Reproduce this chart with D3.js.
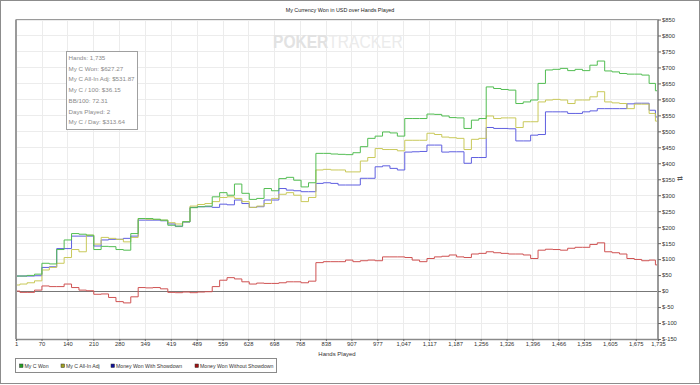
<!DOCTYPE html>
<html>
<head>
<meta charset="utf-8">
<script src="https://cdn.jsdelivr.net/npm/d3@7"></script>
<style>
  html, body { margin: 0; padding: 0; background: #fff; }
  svg { display: block; font-family: "Liberation Sans", Arial, sans-serif; }
</style>
</head>
<body>
<svg id="chart" width="700" height="385"></svg>
<script>
// ---------- DATA ----------
const title = "My Currency Won in USD over Hands Played";
const xTitle = "Hands Played";
const xTicks = [1, 70, 140, 210, 280, 349, 419, 489, 559, 628, 698, 768, 838, 907, 977, 1047, 1117, 1187, 1256, 1326, 1396, 1466, 1535, 1605, 1675, 1735];
const yTicks = [-150, -100, -50, 0, 50, 100, 150, 200, 250, 300, 350, 400, 450, 500, 550, 600, 650, 700, 750, 800, 850];

const hands = [1, 2, 21, 41, 61, 81, 101, 121, 141, 161, 181, 201, 221, 241, 261, 281, 301, 321, 341, 361, 381, 401, 421, 441, 461, 481, 501, 521, 541, 561, 581, 601, 621, 641, 661, 681, 701, 721, 741, 761, 781, 801, 821, 841, 861, 881, 901, 921, 941, 961, 981, 1001, 1021, 1041, 1061, 1081, 1101, 1121, 1141, 1161, 1181, 1201, 1221, 1241, 1261, 1281, 1301, 1321, 1341, 1361, 1381, 1401, 1421, 1441, 1461, 1481, 1501, 1521, 1541, 1561, 1581, 1601, 1621, 1641, 1661, 1681, 1701, 1721, 1735];

const myCWon = [0, 47, 47, 49, 53, 87, 85, 130, 160, 180, 178, 175, 130, 140, 139, 130, 128, 180, 227, 227, 225, 222, 206, 203, 217, 261, 264, 266, 295, 308, 300, 335, 306, 287, 290, 321, 314, 352, 356, 347, 326, 339, 431, 431, 429, 428, 427, 433, 452, 478, 485, 498, 495, 485, 540, 540, 540, 554, 553, 548, 543, 542, 509, 535, 540, 639, 634, 631, 629, 587, 592, 598, 650, 692, 694, 697, 690, 694, 690, 707, 720, 689, 686, 681, 679, 679, 676, 650, 627];

const myCAllInAdj = [0, 19, 22, 26, 32, 66, 74, 87, 105, 130, 123, 175, 147, 168, 165, 162, 154, 168, 227, 225, 224, 222, 214, 210, 217, 266, 271, 274, 280, 293, 295, 290, 280, 262, 266, 274, 290, 303, 308, 300, 280, 293, 379, 381, 379, 379, 373, 373, 407, 418, 446, 443, 443, 439, 472, 472, 472, 494, 490, 482, 480, 478, 443, 475, 478, 548, 540, 542, 542, 512, 530, 530, 592, 598, 600, 598, 587, 598, 598, 608, 624, 592, 589, 587, 571, 585, 585, 556, 532];

const wonWithShowdown = [0, 47, 47, 47, 48, 74, 76, 133, 133, 172, 172, 172, 141, 160, 162, 162, 165, 172, 222, 222, 222, 220, 210, 203, 216, 262, 264, 264, 262, 272, 270, 285, 274, 262, 264, 285, 285, 321, 316, 314, 311, 311, 337, 339, 337, 332, 332, 332, 353, 353, 389, 392, 384, 379, 435, 436, 437, 457, 457, 435, 436, 436, 400, 418, 418, 512, 509, 509, 508, 470, 470, 488, 490, 561, 561, 561, 556, 556, 561, 564, 571, 571, 571, 571, 586, 588, 588, 566, 545];

const wonWithoutShowdown = [0, 0, -4, -4, 3, 16, 14, 14, 22, 11, 3, 1, -10, -9, -20, -33, -37, -18, 11, 10, 11, 7, -4, -5, -3, -5, -3, -2, 14, 34, 42, 38, 29, 22, 25, 24, 24, 26, 29, 29, 26, 31, 89, 92, 92, 92, 97, 92, 95, 97, 95, 107, 107, 107, 105, 97, 92, 102, 107, 109, 113, 107, 105, 116, 118, 123, 120, 118, 116, 116, 113, 102, 128, 131, 130, 128, 134, 137, 137, 146, 151, 123, 120, 116, 102, 99, 95, 97, 82];

const seriesNames = ["My C Won", "My C All-In Adj", "Money Won With Showdown", "Money Won Without Showdown"];
const lineColors = ["#52bd52", "#c9c95a", "#5f5fe0", "#cf5252"];
const swatchColors = ["#22a022", "#a0a020", "#10109a", "#a01010"];

const infoLines = ["Hands: 1,735", "My C Won: $627.27", "My C All-In Adj: $531.87", "My C / 100: $36.15", "BB/100: 72.31", "Days Played: 2", "My C / Day: $313.64"];

// ---------- CHART ----------
const svg = d3.select("#chart");
const W = 700, H = 385;
const plot = { left: 16, right: 658, top: 19.5, bottom: 339 };

const x = d3.scaleLinear().domain([1, 1735]).range([plot.left, plot.right]);
const y = d3.scaleLinear().domain([-150, 850]).range([plot.bottom, plot.top]);

// outer frame
svg.append("rect").attr("x", 0.5).attr("y", 0.5).attr("width", W - 1).attr("height", H - 2)
  .attr("fill", "#fff").attr("stroke", "#8c8c8c");

// title
svg.append("text").attr("x", 340).attr("y", 12).attr("text-anchor", "middle")
  .attr("font-size", 5.4).attr("fill", "#222").text(title);

// grid
const grid = svg.append("g");
grid.selectAll("line.h").data(yTicks).join("line")
  .attr("x1", plot.left).attr("x2", plot.right)
  .attr("y1", d => Math.round(y(d)) + 0.5).attr("y2", d => Math.round(y(d)) + 0.5)
  .attr("stroke", "#ececec");
grid.selectAll("line.v").data(xTicks).join("line")
  .attr("y1", plot.top).attr("y2", plot.bottom)
  .attr("x1", d => Math.round(x(d)) + 0.5).attr("x2", d => Math.round(x(d)) + 0.5)
  .attr("stroke", "#ececec");

// watermark (one text element, horizontally condensed by transform)
const wm = svg.append("text").attr("transform", "translate(273,48) scale(0.82,1)")
  .attr("font-size", 19);
wm.append("tspan").attr("font-weight", "bold").attr("fill", "#e2e2e2").text("POKER");
wm.append("tspan").attr("fill", "#ebebeb").text("TRACKER");

// zero line
svg.append("line").attr("x1", plot.left).attr("x2", plot.right)
  .attr("y1", Math.round(y(0)) + 0.5).attr("y2", Math.round(y(0)) + 0.5)
  .attr("stroke", "#777").attr("stroke-width", 1);

// lines (drawn so green is on top)
const seriesData = [myCWon, myCAllInAdj, wonWithShowdown, wonWithoutShowdown];
const line = d3.line().x((d, i) => x(hands[i])).y(d => y(d)).curve(d3.curveStep);
const order = [3, 2, 1, 0];
svg.append("g").selectAll("path").data(order).join("path")
  .attr("d", i => line(seriesData[i]))
  .attr("fill", "none").attr("stroke", i => lineColors[i]).attr("stroke-width", 1);

// plot frame
svg.append("line").attr("x1", plot.left).attr("x2", plot.right).attr("y1", plot.top).attr("y2", plot.top).attr("stroke", "#9a9a9a");
svg.append("line").attr("x1", plot.left).attr("x2", plot.left).attr("y1", plot.top).attr("y2", plot.bottom).attr("stroke", "#9a9a9a").attr("stroke-width", 2);
svg.append("line").attr("x1", plot.right).attr("x2", plot.right).attr("y1", plot.top).attr("y2", plot.bottom).attr("stroke", "#9a9a9a").attr("stroke-width", 2);

// x axis
const xAxis = d3.axisBottom(x).tickValues(xTicks).tickFormat(d3.format(",")).tickSize(2).tickPadding(1);
const gx = svg.append("g").attr("transform", `translate(0,${plot.bottom})`).call(xAxis);
gx.select(".domain").attr("stroke", "#8a8a8a").attr("stroke-width", 1.5);
gx.selectAll(".tick line").attr("stroke", "#666");
gx.selectAll(".tick text").attr("font-size", 5.8).attr("fill", "#333")
  .attr("font-family", "'Liberation Sans', Arial, sans-serif");

svg.append("text").attr("x", 337).attr("y", 356).attr("text-anchor", "middle")
  .attr("font-size", 6).attr("fill", "#333").text(xTitle);

// y axis (right)
const yAxis = d3.axisRight(y).tickValues(yTicks).tickFormat(d => "$" + d).tickSize(3).tickPadding(1);
const gy = svg.append("g").attr("transform", `translate(${plot.right},0)`).call(yAxis);
gy.select(".domain").remove();
gy.selectAll(".tick line").attr("stroke", "#666");
gy.selectAll(".tick text").attr("font-size", 5.8).attr("fill", "#333")
  .attr("font-family", "'Liberation Sans', Arial, sans-serif");

svg.append("text").attr("x", 680).attr("y", 181).attr("text-anchor", "middle")
  .attr("font-size", 7).attr("fill", "#555").text("⇄");

// info box
const info = svg.append("g");
info.append("rect").attr("x", 66.5).attr("y", 51.5).attr("width", 71).attr("height", 78)
  .attr("fill", "#fff").attr("stroke", "#a0a0a0");
info.selectAll("text").data(infoLines).join("text")
  .attr("x", 68.5).attr("y", (d, i) => 60 + i * 10.7)
  .attr("font-size", 6.2).attr("fill", "#8a8a8a")
  .attr("font-family", "'Liberation Sans', Arial, sans-serif")
  .text(d => d);

// legend
const lg = svg.append("g");
lg.append("rect").attr("x", 15.5).attr("y", 358.5).attr("width", 261).attr("height", 14)
  .attr("fill", "#fff").attr("stroke", "#8a8a8a");
const legendX = [19.5, 61, 111, 195];
const items = lg.selectAll("g.item").data(seriesNames).join("g")
  .attr("transform", (d, i) => `translate(${legendX[i]},364)`);
items.append("rect").attr("width", 3.5).attr("height", 3.5)
  .attr("fill", (d, i) => swatchColors[i]).attr("stroke", "#333").attr("stroke-width", 0.5);
items.append("text").attr("x", 5).attr("y", 3.6).attr("font-size", 5.2).attr("fill", "#333").text(d => d);
</script>
</body>
</html>
